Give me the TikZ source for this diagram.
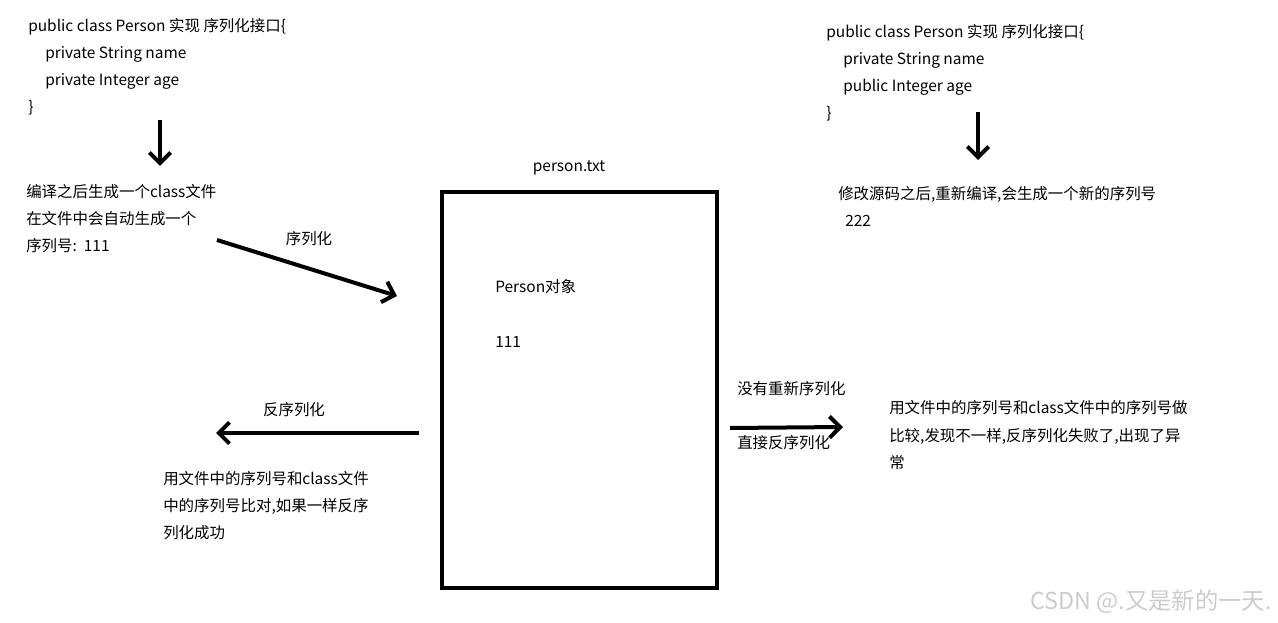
\documentclass[tikz,border=0pt]{standalone}
\usepackage{fontspec}
\setmainfont{Noto Sans CJK SC}
\usetikzlibrary{arrows.meta}
\begin{document}
\begin{tikzpicture}[x=0.75pt,y=-0.75pt,
  txt/.style={anchor=west,inner sep=0pt,font=\fontsize{11.6}{13}\selectfont},
  ctxt/.style={inner sep=0pt,font=\fontsize{11.6}{13}\selectfont},
  arr/.style={line width=3pt,-{Straight Barb[length=8pt,width=16pt,line width=3pt]}},
  box/.style={draw,line width=2.3pt}]
\useasboundingbox (0,0) rectangle (1278,623);
% left top code
\node[txt] (l1) at (28,27) {public class Person 实现 序列化接口\{};
\node[txt] (l2) at (45,54) {private String name};
\node[txt] (l3) at (45,81) {private Integer age};
\node[txt] (l4) at (28,108) {\}};
\coordinate (a1s) at (160,120);
\coordinate (a1e) at (160,166);
\draw[arr] (a1s) -- (a1e);
\node[txt] (c1) at (26,192) {编译之后生成一个class文件};
\node[txt] (c2) at (26,219) {在文件中会自动生成一个};
\node[txt] (c3) at (26,246) {序列号:\ \ 111};
% serialization arrow
\coordinate (s1) at (217,240);
\coordinate (s2) at (397,296);
\draw[arr] (s1) -- (s2);
\node[ctxt] (sl) at (309,239) {序列化};
% box
\node[ctxt] (ptxt) at (569,168) {person.txt};
\draw[box] (442,192) rectangle (717,588);
\node[txt] (po) at (495,287) {Person对象};
\node[txt] (pn) at (495,342) {111};
% deserialization arrow
\coordinate (d1) at (419,433);
\coordinate (d2) at (216,433);
\draw[arr] (d1) -- (d2);
\node[ctxt] (dl) at (294,410) {反序列化};
\node[txt] (e1) at (163,479) {用文件中的序列号和class文件};
\node[txt] (e2) at (163,506) {中的序列号比对,如果一样反序};
\node[txt] (e3) at (163,533) {列化成功};
% right arrow
\coordinate (r1) at (730,428);
\coordinate (r2) at (843,427);
\draw[arr] (r1) -- (r2);
\node[txt] (rl1) at (737,389) {没有重新序列化};
\node[txt] (rl2) at (737,443) {直接反序列化};
\node[txt] (f1) at (889,408) {用文件中的序列号和class文件中的序列号做};
\node[txt] (f2) at (889,436) {比较,发现不一样,反序列化失败了,出现了异};
\node[txt] (f3) at (889,463) {常};
% right top code
\node[txt] (m1) at (826,33) {public class Person 实现 序列化接口\{};
\node[txt] (m2) at (843,60) {private String name};
\node[txt] (m3) at (843,87) {public Integer age};
\node[txt] (m4) at (826,114) {\}};
\coordinate (a2s) at (978,112);
\coordinate (a2e) at (978,160);
\draw[arr] (a2s) -- (a2e);
\node[txt] (n1) at (838,194) {修改源码之后,重新编译,会生成一个新的序列号};
\node[txt] (n2) at (845,221) {222};
% watermark
\node[anchor=east,inner sep=0pt,text=black!20,font=\fontsize{17.5}{19}\selectfont] (wm) at (1272,602) {CSDN @.又是新的一天.};
\end{tikzpicture}
\end{document}
